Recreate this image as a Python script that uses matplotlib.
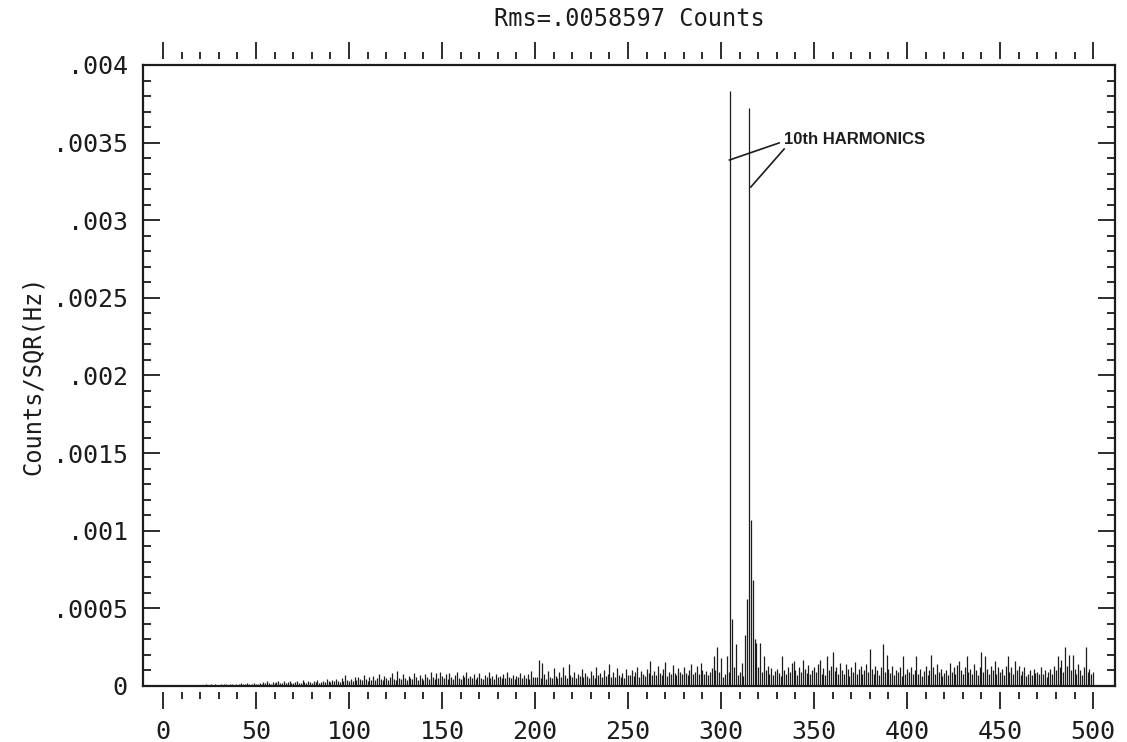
import numpy as np
import matplotlib
matplotlib.use("Agg")
import matplotlib.pyplot as plt
from matplotlib.ticker import MultipleLocator, FixedLocator

# spectrum amplitudes, one per Hz bin, in units of 1e-5 Counts/SQR(Hz)
amp_001_050 = [0.3, 0.2, 0.4, 0.3, 0.2, 0.5, 0.3, 0.4, 0.6, 0.3,
               0.5, 0.4, 0.7, 0.5, 0.3, 0.6, 0.8, 0.5, 0.4, 0.7,
               0.9, 0.6, 1.2, 0.8, 0.5, 1.0, 0.7, 1.3, 0.9, 0.6,
               1.1, 0.8, 1.4, 1.0, 0.7, 1.2, 1.5, 0.9, 1.1, 0.8,
               1.3, 1.6, 1.0, 1.2, 1.8, 1.1, 0.9, 1.4, 1.7, 1.2]
amp_051_100 = [1.5, 2.0, 1.2, 2.6, 1.8, 3.0, 2.2, 1.5, 2.8, 1.9,
               2.4, 3.2, 1.7, 2.1, 2.9, 1.6, 2.5, 3.4, 2.0, 1.8,
               2.7, 3.1, 2.2, 1.9, 3.6, 2.4, 2.0, 3.0, 2.6, 1.8,
               3.3, 2.5, 4.0, 2.1, 2.8, 3.5, 2.3, 4.2, 3.0, 2.6,
               3.8, 2.9, 4.5, 3.1, 2.7, 5.2, 3.4, 7.0, 4.1, 3.2]
amp_101_150 = [4.5, 3.2, 5.8, 3.9, 6.1, 4.3, 3.6, 7.2, 4.8, 3.5,
               5.5, 4.1, 6.6, 3.8, 5.0, 7.5, 4.4, 3.9, 6.2, 5.1,
               4.0, 5.7, 8.2, 4.6, 3.7, 9.5, 5.3, 4.2, 7.8, 4.9,
               3.8, 6.5, 5.2, 4.4, 8.6, 5.6, 4.1, 6.9, 5.0, 3.9,
               7.4, 5.5, 4.6, 9.0, 6.0, 4.3, 8.1, 5.4, 9.3, 6.2]
amp_151_200 = [5.0, 7.6, 4.5, 8.4, 5.9, 4.7, 6.8, 9.1, 5.3, 4.4,
               7.0, 5.6, 8.8, 4.9, 6.3, 5.2, 7.9, 4.6, 6.0, 8.5,
               5.4, 4.8, 7.3, 5.9, 9.0, 5.1, 6.6, 4.7, 8.0, 5.7,
               6.2, 4.9, 7.7, 5.3, 8.9, 6.0, 5.0, 7.1, 4.6, 6.4,
               5.5, 8.3, 4.9, 6.8, 5.2, 7.5, 4.8, 9.4, 6.1, 5.6]
amp_201_250 = [6.0, 16.5, 5.2, 15.0, 7.4, 4.8, 9.8, 6.1, 5.0, 11.5,
               6.6, 4.9, 8.7, 5.5, 12.0, 6.9, 5.3, 14.0, 7.0, 5.8,
               9.2, 4.9, 7.8, 6.2, 11.0, 5.6, 8.4, 6.5, 5.1, 9.9,
               7.3, 5.4, 12.5, 6.8, 8.1, 5.7, 10.4, 6.3, 7.5, 14.0,
               6.1, 9.0, 5.6, 11.8, 7.2, 6.0, 8.6, 5.3, 10.7, 6.9]
amp_251_300 = [7.0, 10.2, 6.3, 8.8, 12.1, 5.9, 9.5, 7.4, 6.6, 11.0,
               8.1, 16.0, 7.2, 9.8, 6.8, 12.6, 8.4, 7.0, 10.9, 15.2,
               6.5, 9.1, 7.7, 13.4, 8.3, 6.9, 11.7, 9.0, 7.5, 12.2,
               8.6, 6.8, 10.5, 14.0, 7.9, 9.3, 12.8, 8.0, 14.5, 10.1,
               7.4, 9.7, 6.9, 8.8, 11.6, 19.5, 10.3, 25.0, 9.0, 18.0]
amp_301_350 = [6.0, 8.0, 19.0, 9.0, 383.0, 43.0, 12.0, 27.0, 7.0, 9.0,
               15.0, 6.5, 33.0, 56.0, 372.0, 107.0, 68.0, 30.0, 28.0, 12.0,
               28.0, 9.0, 19.0, 10.5, 13.0, 8.0, 11.5, 7.0, 9.5, 11.0,
               8.5, 6.5, 19.0, 10.0, 7.5, 12.0, 9.0, 14.5, 16.0, 10.5,
               7.0, 12.5, 9.0, 17.0, 11.0, 8.5, 13.5, 7.5, 10.0, 12.0]
amp_351_400 = [9.0, 14.0, 17.0, 8.0, 11.5, 7.0, 19.0, 10.0, 13.0, 22.0,
               9.5, 12.0, 7.5, 15.0, 10.0, 8.0, 14.0, 11.0, 6.5, 12.5,
               9.0, 15.5, 8.0, 11.0, 13.0, 7.5, 10.0, 14.0, 9.0, 24.0,
               11.0, 8.0, 13.0, 10.0, 7.0, 12.0, 27.0, 9.0, 20.0, 11.0,
               8.5, 13.0, 7.0, 10.5, 9.0, 12.0, 6.5, 19.0, 8.0, 11.0]
amp_401_450 = [9.0, 12.0, 7.5, 10.0, 19.0, 8.0, 11.0, 6.5, 9.5, 13.0,
               7.0, 10.5, 20.0, 12.0, 8.0, 14.0, 9.0, 11.0, 6.5, 8.5,
               10.0, 7.0, 15.0, 9.0, 12.0, 8.0, 13.5, 16.0, 10.0, 7.5,
               12.0, 19.0, 9.0, 11.0, 8.0, 14.0, 10.0, 7.0, 12.5, 22.0,
               9.0, 19.0, 11.0, 8.0, 13.0, 10.0, 16.0, 7.5, 12.0, 9.0]
amp_451_500 = [11.0, 7.0, 13.0, 19.0, 9.0, 12.0, 8.0, 16.0, 10.0, 13.0,
               7.0, 9.5, 12.0, 6.5, 8.0, 10.0, 7.0, 11.0, 8.5, 9.0,
               7.5, 12.0, 8.0, 10.0, 6.0, 9.0, 11.0, 8.0, 13.0, 10.0,
               19.0, 12.0, 17.0, 9.0, 25.0, 13.0, 20.0, 10.0, 20.0, 11.0,
               8.0, 14.0, 10.0, 7.0, 12.0, 25.0, 9.0, 11.0, 8.0, 9.0]

x_ticks = [0, 50, 100, 150, 200, 250, 300, 350, 400, 450, 500]
y_ticks = [0, .0005, .001, .0015, .002, .0025, .003, .0035, .004]
y_tick_labels = ['0', '.0005', '.001', '.0015', '.002', '.0025', '.003', '.0035', '.004']

title = 'Rms=.0058597 Counts'
ylabel = 'Counts/SQR(Hz)'
note = '10th HARMONICS'
note_xy = (334, 0.003517)
leader1 = ([331.2, 304.5], [0.003498, 0.003388])
leader2 = ([333.9, 316.0], [0.003459, 0.003214])

amp = np.concatenate([amp_001_050, amp_051_100, amp_101_150, amp_151_200,
                      amp_201_250, amp_251_300, amp_301_350, amp_351_400,
                      amp_401_450, amp_451_500]) * 1e-5
freq = np.arange(1, len(amp) + 1)

ink = '#1c1c1c'
mono = 'DejaVu Sans Mono'

fig = plt.figure(figsize=(11.27, 7.42), dpi=100)
ax = fig.add_axes([0.1269, 0.0755, 0.8625, 0.8369])

ax.vlines(freq, 0, amp, color=ink, lw=0.9)

ax.set_xlim(-10.75, 511.8)
ax.set_ylim(0, 0.004)

# frame: bottom/top drawn as lines, tick rows pushed outward like the plotter
ax.spines['bottom'].set_position(('outward', 4.5))
ax.spines['top'].set_position(('outward', 4.5))
ax.spines['bottom'].set_visible(False)
ax.spines['top'].set_visible(False)
for s in ['left', 'right']:
    ax.spines[s].set_linewidth(1.6)
    ax.spines[s].set_color(ink)
ax.axhline(0, color=ink, lw=1.6, clip_on=False)
ax.axhline(0.004, color=ink, lw=1.6, clip_on=False)

ax.xaxis.set_major_locator(FixedLocator(x_ticks))
ax.xaxis.set_minor_locator(FixedLocator(np.arange(0, 501, 10)))
ax.yaxis.set_major_locator(FixedLocator(y_ticks))
ax.yaxis.set_minor_locator(MultipleLocator(0.0001))
ax.set_yticklabels(y_tick_labels)

ax.tick_params(axis='x', which='both', direction='out', top=True, bottom=True,
               color=ink, width=1.3)
ax.tick_params(axis='x', which='major', length=12, pad=8, labelsize=18)
ax.tick_params(axis='x', which='minor', length=5)
ax.tick_params(axis='y', which='both', direction='in', left=True, right=True,
               color=ink, width=1.3)
ax.tick_params(axis='y', which='major', length=12, pad=11, labelsize=18)
ax.tick_params(axis='y', which='minor', length=6)

for lab in ax.get_xticklabels() + ax.get_yticklabels():
    lab.set_family(mono)
    lab.set_color(ink)

ax.set_title(title, family=mono, fontsize=17, color=ink, pad=28)
ax.set_ylabel(ylabel, family=mono, fontsize=17, color=ink, labelpad=6)

ax.plot(*leader1, color=ink, lw=1.2)
ax.plot(*leader2, color=ink, lw=1.2)
ax.text(note_xy[0], note_xy[1], note, family='Liberation Sans', weight='bold',
        fontsize=12, color=ink, va='center', ha='left')

fig.savefig('out.png', dpi=100, facecolor='white')
